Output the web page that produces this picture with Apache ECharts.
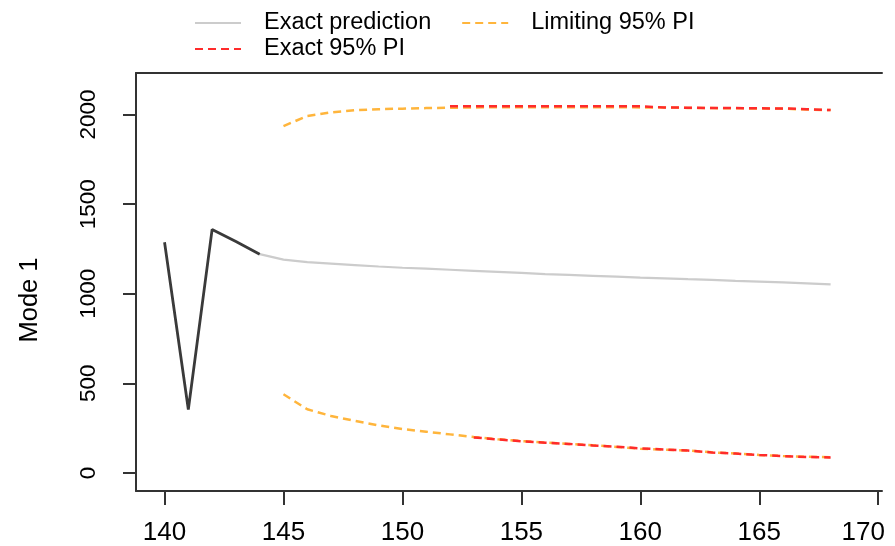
<!DOCTYPE html>
<html>
<head>
<meta charset="utf-8">
<script src="https://cdn.jsdelivr.net/npm/echarts@6/dist/echarts.min.js"></script>
<style>
  html, body { margin: 0; padding: 0; background: #fff; }
  #chart { width: 895px; height: 546px; }
</style>
</head>
<body>
<div id="chart"></div>
<script>
// observed part (dark) and exact prediction (grey)
const obsX = [140, 141, 142, 143, 144];
const obsY = [1287, 354, 1359, 1291, 1221];

const predX = [144, 145, 146, 147, 148, 149, 150, 151, 152, 153, 154, 155, 156, 157, 158, 159, 160, 161, 162, 163, 164, 165, 166, 167, 168];
const predY = [1221, 1190, 1176, 1168, 1160, 1152, 1145, 1140, 1134, 1128, 1122, 1116, 1110, 1105, 1100, 1095, 1090, 1086, 1081, 1077, 1072, 1068, 1063, 1058, 1052];

// limiting 95% PI
const limX = [145, 146, 147, 148, 149, 150, 151, 152, 153, 154, 155, 156, 157, 158, 159, 160, 161, 162, 163, 164, 165, 166, 167, 168];
const limUp = [1936, 1992, 2012, 2024, 2030, 2033, 2036, 2038, 2040, 2041, 2041, 2041, 2041, 2041, 2041, 2040, 2040, 2037, 2036, 2035, 2034, 2033, 2028, 2025];
const limLo = [439, 355, 318, 290, 265, 245, 230, 215, 200, 188, 178, 170, 162, 155, 145, 135, 130, 125, 115, 108, 100, 94, 90, 87];

// exact 95% PI
const exUpX = [152, 153, 154, 155, 156, 157, 158, 159, 160, 161, 162, 163, 164, 165, 166, 167, 168];
const exUp = [2046, 2046, 2046, 2046, 2046, 2046, 2046, 2046, 2046, 2040, 2038, 2037, 2036, 2035, 2034, 2030, 2025];
const exLoX = [153, 154, 155, 156, 157, 158, 159, 160, 161, 162, 163, 164, 165, 166, 167, 168];
const exLo = [198, 187, 177, 168, 162, 153, 146, 137, 131, 125, 114, 108, 100, 94, 89, 86];

const xTicks = [140, 145, 150, 155, 160, 165, 170];
const yTicks = [0, 500, 1000, 1500, 2000];

const zip = (xs, ys) => xs.map((x, i) => [x, ys[i]]);

const axisColor = "#333";
const fontFam = "Liberation Sans, Arial, sans-serif";
const orange = "#ffb53c";
const red = "#ff2b2b";

const chart = echarts.init(document.getElementById("chart"));

const legendText = { fontSize: 23.5, fontFamily: fontFam, color: "#000", padding: [0, 0, 0, 18] };

chart.setOption({
  animation: false,
  backgroundColor: "#fff",
  grid: { left: 136, top: 73, right: 13, bottom: 51, containLabel: false },
  legend: [
    {
      data: ["Exact prediction", "Limiting 95% PI"],
      left: 194,
      top: 11,
      padding: 0,
      itemWidth: 46,
      itemHeight: 14,
      itemGap: 30,
      itemStyle: { opacity: 0 },
      textStyle: legendText,
    },
    {
      data: ["Exact 95% PI"],
      left: 194,
      top: 37,
      padding: 0,
      itemWidth: 46,
      itemHeight: 14,
      itemStyle: { opacity: 0 },
      textStyle: legendText,
    },
  ],
  xAxis: [
    {
      type: "value",
      min: 138.8,
      max: 170.16,
      splitLine: { show: false },
      axisLine: { show: true, onZero: false, lineStyle: { color: axisColor, width: 2 } },
      axisTick: { show: true, length: 14, customValues: xTicks, lineStyle: { color: axisColor, width: 2 } },
      axisLabel: {
        customValues: xTicks,
        margin: 29,
        fontSize: 26,
        fontFamily: fontFam,
        color: "#000",
        formatter: (v) => (v === 170 ? "{last|170}" : String(v)),
        rich: { last: { fontSize: 26, fontFamily: fontFam, color: "#000", padding: [0, 30, 0, 0] } },
      },
    },
    {
      type: "value",
      position: "top",
      min: 138.8,
      max: 170.16,
      splitLine: { show: false },
      axisLine: { show: true, onZero: false, lineStyle: { color: axisColor, width: 2 } },
      axisTick: { show: false },
      axisLabel: { show: false },
    },
  ],
  yAxis: {
    type: "value",
    min: -101,
    max: 2232,
    name: "Mode 1",
    nameLocation: "middle",
    nameGap: 93,
    nameTextStyle: { fontSize: 25.5, fontFamily: fontFam, color: "#000", padding: [0, 36, 0, 0] },
    splitLine: { show: false },
    axisLine: { show: true, onZero: false, lineStyle: { color: axisColor, width: 2 } },
    axisTick: { show: true, length: 13, customValues: yTicks, lineStyle: { color: axisColor, width: 2 } },
    axisLabel: {
      customValues: yTicks,
      rotate: 90,
      margin: 36,
      fontSize: 22.5,
      fontFamily: fontFam,
      color: "#000",
      formatter: (v) => String(v),
    },
  },
  series: [
    {
      name: "Observed",
      type: "line",
      data: zip(obsX, obsY),
      symbol: "none",
      lineStyle: { color: "#3a3a3a", width: 2.8 },
      z: 3,
    },
    {
      name: "Exact prediction",
      type: "line",
      data: zip(predX, predY),
      symbol: "none",
      itemStyle: { color: "#cccccc" },
      lineStyle: { color: "#cccccc", width: 2.2 },
      z: 2,
    },
    {
      name: "Limiting 95% PI",
      type: "line",
      data: zip(limX, limUp),
      symbol: "none",
      itemStyle: { color: orange },
      lineStyle: { color: orange, width: 2.5, type: [8, 5] },
      z: 2,
    },
    {
      name: "Limiting 95% PI",
      type: "line",
      data: zip(limX, limLo),
      symbol: "none",
      itemStyle: { color: orange },
      lineStyle: { color: orange, width: 2.5, type: [8, 5] },
      z: 2,
    },
    {
      name: "Exact 95% PI",
      type: "line",
      data: zip(exUpX, exUp),
      symbol: "none",
      itemStyle: { color: red },
      lineStyle: { color: red, width: 2.5, type: [8, 5] },
      z: 3,
    },
    {
      name: "Exact 95% PI",
      type: "line",
      data: zip(exLoX, exLo),
      symbol: "none",
      itemStyle: { color: red },
      lineStyle: { color: red, width: 2.5, type: [8, 5] },
      z: 3,
    },
  ],
});

window.addEventListener("resize", () => chart.resize());
</script>
</body>
</html>
